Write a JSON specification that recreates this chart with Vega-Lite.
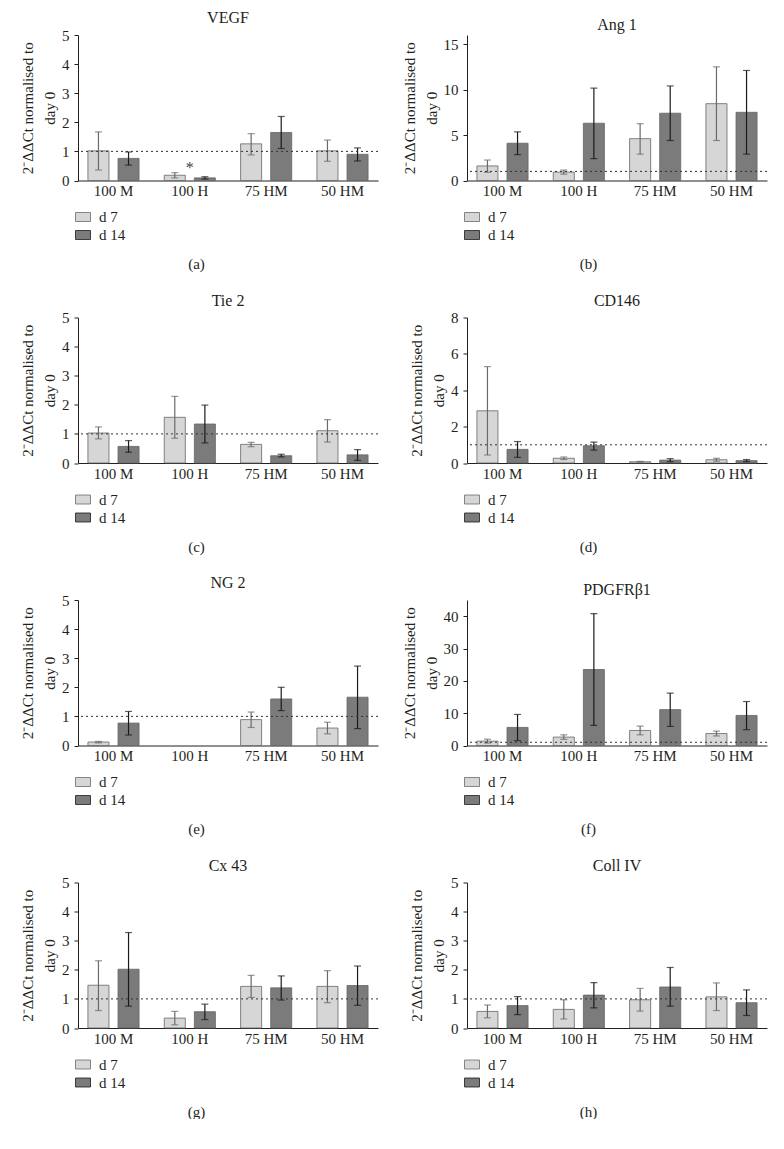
{
  "$schema": "https://vega.github.io/schema/vega-lite/v6.json",
  "autosize": {"type": "pad"},
  "padding": {"left": 20, "top": 10, "right": 0, "bottom": 0},
  "background": "white",
  "datasets": {
    "d": [
      {"gene": "VEGF", "group": "100 M", "day": "d 7", "mean": 1.02, "low": 0.36, "high": 1.67},
      {"gene": "VEGF", "group": "100 M", "day": "d 14", "mean": 0.76, "low": 0.53, "high": 0.98},
      {"gene": "VEGF", "group": "100 H", "day": "d 7", "mean": 0.18, "low": 0.09, "high": 0.27},
      {"gene": "VEGF", "group": "100 H", "day": "d 14", "mean": 0.09, "low": 0.05, "high": 0.13},
      {"gene": "VEGF", "group": "75 HM", "day": "d 7", "mean": 1.26, "low": 0.88, "high": 1.61},
      {"gene": "VEGF", "group": "75 HM", "day": "d 14", "mean": 1.65, "low": 1.10, "high": 2.20},
      {"gene": "VEGF", "group": "50 HM", "day": "d 7", "mean": 1.02, "low": 0.66, "high": 1.39},
      {"gene": "VEGF", "group": "50 HM", "day": "d 14", "mean": 0.90, "low": 0.67, "high": 1.12},
      {"gene": "Ang 1", "group": "100 M", "day": "d 7", "mean": 1.6, "low": 0.9, "high": 2.25},
      {"gene": "Ang 1", "group": "100 M", "day": "d 14", "mean": 4.1, "low": 2.85, "high": 5.35},
      {"gene": "Ang 1", "group": "100 H", "day": "d 7", "mean": 0.92, "low": 0.7, "high": 1.15},
      {"gene": "Ang 1", "group": "100 H", "day": "d 14", "mean": 6.3, "low": 2.4, "high": 10.15},
      {"gene": "Ang 1", "group": "75 HM", "day": "d 7", "mean": 4.6, "low": 2.9, "high": 6.25},
      {"gene": "Ang 1", "group": "75 HM", "day": "d 14", "mean": 7.4, "low": 4.4, "high": 10.4},
      {"gene": "Ang 1", "group": "50 HM", "day": "d 7", "mean": 8.45, "low": 4.4, "high": 12.5},
      {"gene": "Ang 1", "group": "50 HM", "day": "d 14", "mean": 7.5, "low": 2.9, "high": 12.1},
      {"gene": "Tie 2", "group": "100 M", "day": "d 7", "mean": 1.03, "low": 0.83, "high": 1.24},
      {"gene": "Tie 2", "group": "100 M", "day": "d 14", "mean": 0.57, "low": 0.37, "high": 0.77},
      {"gene": "Tie 2", "group": "100 H", "day": "d 7", "mean": 1.57, "low": 0.85, "high": 2.29},
      {"gene": "Tie 2", "group": "100 H", "day": "d 14", "mean": 1.34, "low": 0.69, "high": 1.99},
      {"gene": "Tie 2", "group": "75 HM", "day": "d 7", "mean": 0.64, "low": 0.56, "high": 0.71},
      {"gene": "Tie 2", "group": "75 HM", "day": "d 14", "mean": 0.25, "low": 0.21, "high": 0.30},
      {"gene": "Tie 2", "group": "50 HM", "day": "d 7", "mean": 1.11, "low": 0.72, "high": 1.49},
      {"gene": "Tie 2", "group": "50 HM", "day": "d 14", "mean": 0.28, "low": 0.09, "high": 0.46},
      {"gene": "CD146", "group": "100 M", "day": "d 7", "mean": 2.87, "low": 0.44, "high": 5.3},
      {"gene": "CD146", "group": "100 M", "day": "d 14", "mean": 0.75, "low": 0.31, "high": 1.18},
      {"gene": "CD146", "group": "100 H", "day": "d 7", "mean": 0.26, "low": 0.19, "high": 0.33},
      {"gene": "CD146", "group": "100 H", "day": "d 14", "mean": 0.95, "low": 0.71, "high": 1.15},
      {"gene": "CD146", "group": "75 HM", "day": "d 7", "mean": 0.07, "low": 0.05, "high": 0.09},
      {"gene": "CD146", "group": "75 HM", "day": "d 14", "mean": 0.16, "low": 0.07, "high": 0.24},
      {"gene": "CD146", "group": "50 HM", "day": "d 7", "mean": 0.18, "low": 0.10, "high": 0.26},
      {"gene": "CD146", "group": "50 HM", "day": "d 14", "mean": 0.13, "low": 0.07, "high": 0.19},
      {"gene": "NG 2", "group": "100 M", "day": "d 7", "mean": 0.12, "low": 0.09, "high": 0.14},
      {"gene": "NG 2", "group": "100 M", "day": "d 14", "mean": 0.77, "low": 0.36, "high": 1.17},
      {"gene": "NG 2", "group": "75 HM", "day": "d 7", "mean": 0.89, "low": 0.62, "high": 1.15},
      {"gene": "NG 2", "group": "75 HM", "day": "d 14", "mean": 1.6, "low": 1.2, "high": 2.0},
      {"gene": "NG 2", "group": "50 HM", "day": "d 7", "mean": 0.6, "low": 0.4, "high": 0.8},
      {"gene": "NG 2", "group": "50 HM", "day": "d 14", "mean": 1.66, "low": 0.58, "high": 2.73},
      {"gene": "PDGFRβ1", "group": "100 M", "day": "d 7", "mean": 1.35, "low": 0.75, "high": 1.95},
      {"gene": "PDGFRβ1", "group": "100 M", "day": "d 14", "mean": 5.6, "low": 1.5, "high": 9.6},
      {"gene": "PDGFRβ1", "group": "100 H", "day": "d 7", "mean": 2.6, "low": 1.9, "high": 3.3},
      {"gene": "PDGFRβ1", "group": "100 H", "day": "d 14", "mean": 23.5, "low": 6.2, "high": 40.8},
      {"gene": "PDGFRβ1", "group": "75 HM", "day": "d 7", "mean": 4.65, "low": 3.3, "high": 6.0},
      {"gene": "PDGFRβ1", "group": "75 HM", "day": "d 14", "mean": 11.1, "low": 5.9, "high": 16.2},
      {"gene": "PDGFRβ1", "group": "50 HM", "day": "d 7", "mean": 3.7, "low": 2.95, "high": 4.45},
      {"gene": "PDGFRβ1", "group": "50 HM", "day": "d 14", "mean": 9.3, "low": 4.9, "high": 13.6},
      {"gene": "Cx 43", "group": "100 M", "day": "d 7", "mean": 1.47, "low": 0.6, "high": 2.31},
      {"gene": "Cx 43", "group": "100 M", "day": "d 14", "mean": 2.02, "low": 0.75, "high": 3.28},
      {"gene": "Cx 43", "group": "100 H", "day": "d 7", "mean": 0.34, "low": 0.11, "high": 0.57},
      {"gene": "Cx 43", "group": "100 H", "day": "d 14", "mean": 0.56, "low": 0.29, "high": 0.82},
      {"gene": "Cx 43", "group": "75 HM", "day": "d 7", "mean": 1.43, "low": 1.05, "high": 1.81},
      {"gene": "Cx 43", "group": "75 HM", "day": "d 14", "mean": 1.38, "low": 0.96, "high": 1.79},
      {"gene": "Cx 43", "group": "50 HM", "day": "d 7", "mean": 1.43, "low": 0.87, "high": 1.97},
      {"gene": "Cx 43", "group": "50 HM", "day": "d 14", "mean": 1.46, "low": 0.78, "high": 2.13},
      {"gene": "Coll IV", "group": "100 M", "day": "d 7", "mean": 0.57, "low": 0.35, "high": 0.79},
      {"gene": "Coll IV", "group": "100 M", "day": "d 14", "mean": 0.77, "low": 0.46, "high": 1.08},
      {"gene": "Coll IV", "group": "100 H", "day": "d 7", "mean": 0.64, "low": 0.31, "high": 0.97},
      {"gene": "Coll IV", "group": "100 H", "day": "d 14", "mean": 1.13, "low": 0.69, "high": 1.56},
      {"gene": "Coll IV", "group": "75 HM", "day": "d 7", "mean": 0.97, "low": 0.58, "high": 1.36},
      {"gene": "Coll IV", "group": "75 HM", "day": "d 14", "mean": 1.41, "low": 0.75, "high": 2.08},
      {"gene": "Coll IV", "group": "50 HM", "day": "d 7", "mean": 1.07, "low": 0.6, "high": 1.55},
      {"gene": "Coll IV", "group": "50 HM", "day": "d 14", "mean": 0.87, "low": 0.43, "high": 1.31}
    ],
    "ref": [{"v": 1}],
    "star": [{"group": "100 H", "y": 0.42, "t": "*"}]
  },
  "columns": 2,
  "bounds": "flush",
  "spacing": {"row": 136.5, "column": 89},
  "resolve": {"scale": {"fill": "independent", "color": "independent", "y": "independent", "x": "independent", "xOffset": "independent"}, "legend": {"fill": "independent"}},
  "concat": [
    {
      "width": 300, "height": 145.5,
      "title": "VEGF",
      "layer": [
        {"data": {"name": "d"}, "transform": [{"filter": "datum.gene === 'VEGF'"}],
         "mark": {"type": "bar", "stroke": "#666666", "strokeWidth": 0.8},
         "encoding": {
           "x": {"field": "group", "type": "nominal", "sort": ["100 M", "100 H", "75 HM", "50 HM"], "scale": {"domain": ["100 M", "100 H", "75 HM", "50 HM"], "paddingInner": 0.33, "paddingOuter": 0.13}, "axis": {"title": "(a)", "titleX": 118}},
           "xOffset": {"field": "day", "type": "nominal", "scale": {"domain": ["d 7", "d 14"], "paddingInner": 0.3, "paddingOuter": 0}},
           "y": {"field": "mean", "type": "quantitative", "scale": {"domain": [0, 5]}, "axis": {"values": [0, 1, 2, 3, 4, 5], "labelOverlap": false, "title": ["2⁻ΔΔCt normalised to", "day 0"]}},
           "fill": {"field": "day", "type": "nominal", "scale": {"domain": ["d 7", "d 14"], "range": ["#d6d6d6", "#7b7b7b"]}, "legend": {"orient": "none", "legendX": -3, "legendY": 174}}
         }},
        {"data": {"name": "d"}, "transform": [{"filter": "datum.gene === 'VEGF'"}],
         "mark": {"type": "rule", "strokeWidth": 1.2},
         "encoding": {
           "x": {"field": "group", "type": "nominal"}, "xOffset": {"field": "day", "type": "nominal"},
           "y": {"field": "low", "type": "quantitative", "axis": {"values": [0, 1, 2, 3, 4, 5], "labelOverlap": false}}, "y2": {"field": "high"},
           "color": {"field": "day", "type": "nominal", "scale": {"domain": ["d 7", "d 14"], "range": ["#6a6a6a", "#1a1a1a"]}, "legend": null}
         }},
        {"data": {"name": "d"}, "transform": [{"filter": "datum.gene === 'VEGF'"}],
         "mark": {"type": "tick", "size": 7, "thickness": 1.2},
         "encoding": {
           "x": {"field": "group", "type": "nominal"}, "xOffset": {"field": "day", "type": "nominal"},
           "y": {"field": "low", "type": "quantitative", "axis": {"values": [0, 1, 2, 3, 4, 5], "labelOverlap": false}},
           "color": {"field": "day", "type": "nominal", "legend": null}
         }},
        {"data": {"name": "d"}, "transform": [{"filter": "datum.gene === 'VEGF'"}],
         "mark": {"type": "tick", "size": 7, "thickness": 1.2},
         "encoding": {
           "x": {"field": "group", "type": "nominal"}, "xOffset": {"field": "day", "type": "nominal"},
           "y": {"field": "high", "type": "quantitative", "axis": {"values": [0, 1, 2, 3, 4, 5], "labelOverlap": false}},
           "color": {"field": "day", "type": "nominal", "legend": null}
         }},
        {"data": {"name": "star"}, "mark": {"type": "text", "font": "Liberation Serif", "fontSize": 16, "fill": "#444444"},
         "encoding": {"x": {"field": "group", "type": "nominal"}, "y": {"field": "y", "type": "quantitative", "axis": {"values": [0, 1, 2, 3, 4, 5], "labelOverlap": false}}, "text": {"field": "t"}}},
        {"data": {"name": "ref"}, "mark": {"type": "rule", "strokeDash": [2, 3], "color": "#333", "strokeWidth": 1},
         "encoding": {"y": {"field": "v", "type": "quantitative", "axis": {"values": [0, 1, 2, 3, 4, 5], "labelOverlap": false}}}}
      ]
    },
    {
      "width": 300, "height": 145.5,
      "title": "Ang 1",
      "layer": [
        {"data": {"name": "d"}, "transform": [{"filter": "datum.gene === 'Ang 1'"}],
         "mark": {"type": "bar", "stroke": "#666666", "strokeWidth": 0.8},
         "encoding": {
           "x": {"field": "group", "type": "nominal", "sort": ["100 M", "100 H", "75 HM", "50 HM"], "scale": {"domain": ["100 M", "100 H", "75 HM", "50 HM"], "paddingInner": 0.33, "paddingOuter": 0.13}, "axis": {"title": "(b)", "titleX": 121}},
           "xOffset": {"field": "day", "type": "nominal", "scale": {"domain": ["d 7", "d 14"], "paddingInner": 0.3, "paddingOuter": 0}},
           "y": {"field": "mean", "type": "quantitative", "scale": {"domain": [0, 15]}, "axis": {"values": [0, 5, 10, 15], "labelOverlap": false, "title": ["2⁻ΔΔCt normalised to", "day 0"]}},
           "fill": {"field": "day", "type": "nominal", "scale": {"domain": ["d 7", "d 14"], "range": ["#d6d6d6", "#7b7b7b"]}, "legend": {"orient": "none", "legendX": -3, "legendY": 174}}
         }},
        {"data": {"name": "d"}, "transform": [{"filter": "datum.gene === 'Ang 1'"}],
         "mark": {"type": "rule", "strokeWidth": 1.2},
         "encoding": {
           "x": {"field": "group", "type": "nominal"}, "xOffset": {"field": "day", "type": "nominal"},
           "y": {"field": "low", "type": "quantitative", "axis": {"values": [0, 5, 10, 15], "labelOverlap": false}}, "y2": {"field": "high"},
           "color": {"field": "day", "type": "nominal", "scale": {"domain": ["d 7", "d 14"], "range": ["#6a6a6a", "#1a1a1a"]}, "legend": null}
         }},
        {"data": {"name": "d"}, "transform": [{"filter": "datum.gene === 'Ang 1'"}],
         "mark": {"type": "tick", "size": 7, "thickness": 1.2},
         "encoding": {
           "x": {"field": "group", "type": "nominal"}, "xOffset": {"field": "day", "type": "nominal"},
           "y": {"field": "low", "type": "quantitative", "axis": {"values": [0, 5, 10, 15], "labelOverlap": false}},
           "color": {"field": "day", "type": "nominal", "legend": null}
         }},
        {"data": {"name": "d"}, "transform": [{"filter": "datum.gene === 'Ang 1'"}],
         "mark": {"type": "tick", "size": 7, "thickness": 1.2},
         "encoding": {
           "x": {"field": "group", "type": "nominal"}, "xOffset": {"field": "day", "type": "nominal"},
           "y": {"field": "high", "type": "quantitative", "axis": {"values": [0, 5, 10, 15], "labelOverlap": false}},
           "color": {"field": "day", "type": "nominal", "legend": null}
         }},
        {"data": {"name": "ref"}, "mark": {"type": "rule", "strokeDash": [2, 3], "color": "#333", "strokeWidth": 1},
         "encoding": {"y": {"field": "v", "type": "quantitative", "axis": {"values": [0, 5, 10, 15], "labelOverlap": false}}}}
      ]
    },
    {
      "width": 300, "height": 145.5,
      "title": "Tie 2",
      "layer": [
        {"data": {"name": "d"}, "transform": [{"filter": "datum.gene === 'Tie 2'"}],
         "mark": {"type": "bar", "stroke": "#666666", "strokeWidth": 0.8},
         "encoding": {
           "x": {"field": "group", "type": "nominal", "sort": ["100 M", "100 H", "75 HM", "50 HM"], "scale": {"domain": ["100 M", "100 H", "75 HM", "50 HM"], "paddingInner": 0.33, "paddingOuter": 0.13}, "axis": {"title": "(c)", "titleX": 118}},
           "xOffset": {"field": "day", "type": "nominal", "scale": {"domain": ["d 7", "d 14"], "paddingInner": 0.3, "paddingOuter": 0}},
           "y": {"field": "mean", "type": "quantitative", "scale": {"domain": [0, 5]}, "axis": {"values": [0, 1, 2, 3, 4, 5], "labelOverlap": false, "title": ["2⁻ΔΔCt normalised to", "day 0"]}},
           "fill": {"field": "day", "type": "nominal", "scale": {"domain": ["d 7", "d 14"], "range": ["#d6d6d6", "#7b7b7b"]}, "legend": {"orient": "none", "legendX": -3, "legendY": 174}}
         }},
        {"data": {"name": "d"}, "transform": [{"filter": "datum.gene === 'Tie 2'"}],
         "mark": {"type": "rule", "strokeWidth": 1.2},
         "encoding": {
           "x": {"field": "group", "type": "nominal"}, "xOffset": {"field": "day", "type": "nominal"},
           "y": {"field": "low", "type": "quantitative", "axis": {"values": [0, 1, 2, 3, 4, 5], "labelOverlap": false}}, "y2": {"field": "high"},
           "color": {"field": "day", "type": "nominal", "scale": {"domain": ["d 7", "d 14"], "range": ["#6a6a6a", "#1a1a1a"]}, "legend": null}
         }},
        {"data": {"name": "d"}, "transform": [{"filter": "datum.gene === 'Tie 2'"}],
         "mark": {"type": "tick", "size": 7, "thickness": 1.2},
         "encoding": {
           "x": {"field": "group", "type": "nominal"}, "xOffset": {"field": "day", "type": "nominal"},
           "y": {"field": "low", "type": "quantitative", "axis": {"values": [0, 1, 2, 3, 4, 5], "labelOverlap": false}},
           "color": {"field": "day", "type": "nominal", "legend": null}
         }},
        {"data": {"name": "d"}, "transform": [{"filter": "datum.gene === 'Tie 2'"}],
         "mark": {"type": "tick", "size": 7, "thickness": 1.2},
         "encoding": {
           "x": {"field": "group", "type": "nominal"}, "xOffset": {"field": "day", "type": "nominal"},
           "y": {"field": "high", "type": "quantitative", "axis": {"values": [0, 1, 2, 3, 4, 5], "labelOverlap": false}},
           "color": {"field": "day", "type": "nominal", "legend": null}
         }},
        {"data": {"name": "ref"}, "mark": {"type": "rule", "strokeDash": [2, 3], "color": "#333", "strokeWidth": 1},
         "encoding": {"y": {"field": "v", "type": "quantitative", "axis": {"values": [0, 1, 2, 3, 4, 5], "labelOverlap": false}}}}
      ]
    },
    {
      "width": 300, "height": 145.5,
      "title": "CD146",
      "layer": [
        {"data": {"name": "d"}, "transform": [{"filter": "datum.gene === 'CD146'"}],
         "mark": {"type": "bar", "stroke": "#666666", "strokeWidth": 0.8},
         "encoding": {
           "x": {"field": "group", "type": "nominal", "sort": ["100 M", "100 H", "75 HM", "50 HM"], "scale": {"domain": ["100 M", "100 H", "75 HM", "50 HM"], "paddingInner": 0.33, "paddingOuter": 0.13}, "axis": {"title": "(d)", "titleX": 121}},
           "xOffset": {"field": "day", "type": "nominal", "scale": {"domain": ["d 7", "d 14"], "paddingInner": 0.3, "paddingOuter": 0}},
           "y": {"field": "mean", "type": "quantitative", "scale": {"domain": [0, 8]}, "axis": {"values": [0, 2, 4, 6, 8], "labelOverlap": false, "title": ["2⁻ΔΔCt normalised to", "day 0"]}},
           "fill": {"field": "day", "type": "nominal", "scale": {"domain": ["d 7", "d 14"], "range": ["#d6d6d6", "#7b7b7b"]}, "legend": {"orient": "none", "legendX": -3, "legendY": 174}}
         }},
        {"data": {"name": "d"}, "transform": [{"filter": "datum.gene === 'CD146'"}],
         "mark": {"type": "rule", "strokeWidth": 1.2},
         "encoding": {
           "x": {"field": "group", "type": "nominal"}, "xOffset": {"field": "day", "type": "nominal"},
           "y": {"field": "low", "type": "quantitative", "axis": {"values": [0, 2, 4, 6, 8], "labelOverlap": false}}, "y2": {"field": "high"},
           "color": {"field": "day", "type": "nominal", "scale": {"domain": ["d 7", "d 14"], "range": ["#6a6a6a", "#1a1a1a"]}, "legend": null}
         }},
        {"data": {"name": "d"}, "transform": [{"filter": "datum.gene === 'CD146'"}],
         "mark": {"type": "tick", "size": 7, "thickness": 1.2},
         "encoding": {
           "x": {"field": "group", "type": "nominal"}, "xOffset": {"field": "day", "type": "nominal"},
           "y": {"field": "low", "type": "quantitative", "axis": {"values": [0, 2, 4, 6, 8], "labelOverlap": false}},
           "color": {"field": "day", "type": "nominal", "legend": null}
         }},
        {"data": {"name": "d"}, "transform": [{"filter": "datum.gene === 'CD146'"}],
         "mark": {"type": "tick", "size": 7, "thickness": 1.2},
         "encoding": {
           "x": {"field": "group", "type": "nominal"}, "xOffset": {"field": "day", "type": "nominal"},
           "y": {"field": "high", "type": "quantitative", "axis": {"values": [0, 2, 4, 6, 8], "labelOverlap": false}},
           "color": {"field": "day", "type": "nominal", "legend": null}
         }},
        {"data": {"name": "ref"}, "mark": {"type": "rule", "strokeDash": [2, 3], "color": "#333", "strokeWidth": 1},
         "encoding": {"y": {"field": "v", "type": "quantitative", "axis": {"values": [0, 2, 4, 6, 8], "labelOverlap": false}}}}
      ]
    },
    {
      "width": 300, "height": 145.5,
      "title": "NG 2",
      "layer": [
        {"data": {"name": "d"}, "transform": [{"filter": "datum.gene === 'NG 2'"}],
         "mark": {"type": "bar", "stroke": "#666666", "strokeWidth": 0.8},
         "encoding": {
           "x": {"field": "group", "type": "nominal", "sort": ["100 M", "100 H", "75 HM", "50 HM"], "scale": {"domain": ["100 M", "100 H", "75 HM", "50 HM"], "paddingInner": 0.33, "paddingOuter": 0.13}, "axis": {"title": "(e)", "titleX": 118}},
           "xOffset": {"field": "day", "type": "nominal", "scale": {"domain": ["d 7", "d 14"], "paddingInner": 0.3, "paddingOuter": 0}},
           "y": {"field": "mean", "type": "quantitative", "scale": {"domain": [0, 5]}, "axis": {"values": [0, 1, 2, 3, 4, 5], "labelOverlap": false, "title": ["2⁻ΔΔCt normalised to", "day 0"]}},
           "fill": {"field": "day", "type": "nominal", "scale": {"domain": ["d 7", "d 14"], "range": ["#d6d6d6", "#7b7b7b"]}, "legend": {"orient": "none", "legendX": -3, "legendY": 174}}
         }},
        {"data": {"name": "d"}, "transform": [{"filter": "datum.gene === 'NG 2'"}],
         "mark": {"type": "rule", "strokeWidth": 1.2},
         "encoding": {
           "x": {"field": "group", "type": "nominal"}, "xOffset": {"field": "day", "type": "nominal"},
           "y": {"field": "low", "type": "quantitative", "axis": {"values": [0, 1, 2, 3, 4, 5], "labelOverlap": false}}, "y2": {"field": "high"},
           "color": {"field": "day", "type": "nominal", "scale": {"domain": ["d 7", "d 14"], "range": ["#6a6a6a", "#1a1a1a"]}, "legend": null}
         }},
        {"data": {"name": "d"}, "transform": [{"filter": "datum.gene === 'NG 2'"}],
         "mark": {"type": "tick", "size": 7, "thickness": 1.2},
         "encoding": {
           "x": {"field": "group", "type": "nominal"}, "xOffset": {"field": "day", "type": "nominal"},
           "y": {"field": "low", "type": "quantitative", "axis": {"values": [0, 1, 2, 3, 4, 5], "labelOverlap": false}},
           "color": {"field": "day", "type": "nominal", "legend": null}
         }},
        {"data": {"name": "d"}, "transform": [{"filter": "datum.gene === 'NG 2'"}],
         "mark": {"type": "tick", "size": 7, "thickness": 1.2},
         "encoding": {
           "x": {"field": "group", "type": "nominal"}, "xOffset": {"field": "day", "type": "nominal"},
           "y": {"field": "high", "type": "quantitative", "axis": {"values": [0, 1, 2, 3, 4, 5], "labelOverlap": false}},
           "color": {"field": "day", "type": "nominal", "legend": null}
         }},
        {"data": {"name": "ref"}, "mark": {"type": "rule", "strokeDash": [2, 3], "color": "#333", "strokeWidth": 1},
         "encoding": {"y": {"field": "v", "type": "quantitative", "axis": {"values": [0, 1, 2, 3, 4, 5], "labelOverlap": false}}}}
      ]
    },
    {
      "width": 300, "height": 145.5,
      "title": "PDGFRβ1",
      "layer": [
        {"data": {"name": "d"}, "transform": [{"filter": "datum.gene === 'PDGFRβ1'"}],
         "mark": {"type": "bar", "stroke": "#666666", "strokeWidth": 0.8},
         "encoding": {
           "x": {"field": "group", "type": "nominal", "sort": ["100 M", "100 H", "75 HM", "50 HM"], "scale": {"domain": ["100 M", "100 H", "75 HM", "50 HM"], "paddingInner": 0.33, "paddingOuter": 0.13}, "axis": {"title": "(f)", "titleX": 121}},
           "xOffset": {"field": "day", "type": "nominal", "scale": {"domain": ["d 7", "d 14"], "paddingInner": 0.3, "paddingOuter": 0}},
           "y": {"field": "mean", "type": "quantitative", "scale": {"domain": [0, 45]}, "axis": {"values": [0, 10, 20, 30, 40], "labelOverlap": false, "title": ["2⁻ΔΔCt normalised to", "day 0"]}},
           "fill": {"field": "day", "type": "nominal", "scale": {"domain": ["d 7", "d 14"], "range": ["#d6d6d6", "#7b7b7b"]}, "legend": {"orient": "none", "legendX": -3, "legendY": 174}}
         }},
        {"data": {"name": "d"}, "transform": [{"filter": "datum.gene === 'PDGFRβ1'"}],
         "mark": {"type": "rule", "strokeWidth": 1.2},
         "encoding": {
           "x": {"field": "group", "type": "nominal"}, "xOffset": {"field": "day", "type": "nominal"},
           "y": {"field": "low", "type": "quantitative", "axis": {"values": [0, 10, 20, 30, 40], "labelOverlap": false}}, "y2": {"field": "high"},
           "color": {"field": "day", "type": "nominal", "scale": {"domain": ["d 7", "d 14"], "range": ["#6a6a6a", "#1a1a1a"]}, "legend": null}
         }},
        {"data": {"name": "d"}, "transform": [{"filter": "datum.gene === 'PDGFRβ1'"}],
         "mark": {"type": "tick", "size": 7, "thickness": 1.2},
         "encoding": {
           "x": {"field": "group", "type": "nominal"}, "xOffset": {"field": "day", "type": "nominal"},
           "y": {"field": "low", "type": "quantitative", "axis": {"values": [0, 10, 20, 30, 40], "labelOverlap": false}},
           "color": {"field": "day", "type": "nominal", "legend": null}
         }},
        {"data": {"name": "d"}, "transform": [{"filter": "datum.gene === 'PDGFRβ1'"}],
         "mark": {"type": "tick", "size": 7, "thickness": 1.2},
         "encoding": {
           "x": {"field": "group", "type": "nominal"}, "xOffset": {"field": "day", "type": "nominal"},
           "y": {"field": "high", "type": "quantitative", "axis": {"values": [0, 10, 20, 30, 40], "labelOverlap": false}},
           "color": {"field": "day", "type": "nominal", "legend": null}
         }},
        {"data": {"name": "ref"}, "mark": {"type": "rule", "strokeDash": [2, 3], "color": "#333", "strokeWidth": 1},
         "encoding": {"y": {"field": "v", "type": "quantitative", "axis": {"values": [0, 10, 20, 30, 40], "labelOverlap": false}}}}
      ]
    },
    {
      "width": 300, "height": 145.5,
      "title": "Cx 43",
      "layer": [
        {"data": {"name": "d"}, "transform": [{"filter": "datum.gene === 'Cx 43'"}],
         "mark": {"type": "bar", "stroke": "#666666", "strokeWidth": 0.8},
         "encoding": {
           "x": {"field": "group", "type": "nominal", "sort": ["100 M", "100 H", "75 HM", "50 HM"], "scale": {"domain": ["100 M", "100 H", "75 HM", "50 HM"], "paddingInner": 0.33, "paddingOuter": 0.13}, "axis": {"title": "(g)", "titleX": 118}},
           "xOffset": {"field": "day", "type": "nominal", "scale": {"domain": ["d 7", "d 14"], "paddingInner": 0.3, "paddingOuter": 0}},
           "y": {"field": "mean", "type": "quantitative", "scale": {"domain": [0, 5]}, "axis": {"values": [0, 1, 2, 3, 4, 5], "labelOverlap": false, "title": ["2⁻ΔΔCt normalised to", "day 0"]}},
           "fill": {"field": "day", "type": "nominal", "scale": {"domain": ["d 7", "d 14"], "range": ["#d6d6d6", "#7b7b7b"]}, "legend": {"orient": "none", "legendX": -3, "legendY": 174}}
         }},
        {"data": {"name": "d"}, "transform": [{"filter": "datum.gene === 'Cx 43'"}],
         "mark": {"type": "rule", "strokeWidth": 1.2},
         "encoding": {
           "x": {"field": "group", "type": "nominal"}, "xOffset": {"field": "day", "type": "nominal"},
           "y": {"field": "low", "type": "quantitative", "axis": {"values": [0, 1, 2, 3, 4, 5], "labelOverlap": false}}, "y2": {"field": "high"},
           "color": {"field": "day", "type": "nominal", "scale": {"domain": ["d 7", "d 14"], "range": ["#6a6a6a", "#1a1a1a"]}, "legend": null}
         }},
        {"data": {"name": "d"}, "transform": [{"filter": "datum.gene === 'Cx 43'"}],
         "mark": {"type": "tick", "size": 7, "thickness": 1.2},
         "encoding": {
           "x": {"field": "group", "type": "nominal"}, "xOffset": {"field": "day", "type": "nominal"},
           "y": {"field": "low", "type": "quantitative", "axis": {"values": [0, 1, 2, 3, 4, 5], "labelOverlap": false}},
           "color": {"field": "day", "type": "nominal", "legend": null}
         }},
        {"data": {"name": "d"}, "transform": [{"filter": "datum.gene === 'Cx 43'"}],
         "mark": {"type": "tick", "size": 7, "thickness": 1.2},
         "encoding": {
           "x": {"field": "group", "type": "nominal"}, "xOffset": {"field": "day", "type": "nominal"},
           "y": {"field": "high", "type": "quantitative", "axis": {"values": [0, 1, 2, 3, 4, 5], "labelOverlap": false}},
           "color": {"field": "day", "type": "nominal", "legend": null}
         }},
        {"data": {"name": "ref"}, "mark": {"type": "rule", "strokeDash": [2, 3], "color": "#333", "strokeWidth": 1},
         "encoding": {"y": {"field": "v", "type": "quantitative", "axis": {"values": [0, 1, 2, 3, 4, 5], "labelOverlap": false}}}}
      ]
    },
    {
      "width": 300, "height": 145.5,
      "title": "Coll IV",
      "layer": [
        {"data": {"name": "d"}, "transform": [{"filter": "datum.gene === 'Coll IV'"}],
         "mark": {"type": "bar", "stroke": "#666666", "strokeWidth": 0.8},
         "encoding": {
           "x": {"field": "group", "type": "nominal", "sort": ["100 M", "100 H", "75 HM", "50 HM"], "scale": {"domain": ["100 M", "100 H", "75 HM", "50 HM"], "paddingInner": 0.33, "paddingOuter": 0.13}, "axis": {"title": "(h)", "titleX": 121}},
           "xOffset": {"field": "day", "type": "nominal", "scale": {"domain": ["d 7", "d 14"], "paddingInner": 0.3, "paddingOuter": 0}},
           "y": {"field": "mean", "type": "quantitative", "scale": {"domain": [0, 5]}, "axis": {"values": [0, 1, 2, 3, 4, 5], "labelOverlap": false, "title": ["2⁻ΔΔCt normalised to", "day 0"]}},
           "fill": {"field": "day", "type": "nominal", "scale": {"domain": ["d 7", "d 14"], "range": ["#d6d6d6", "#7b7b7b"]}, "legend": {"orient": "none", "legendX": -3, "legendY": 174}}
         }},
        {"data": {"name": "d"}, "transform": [{"filter": "datum.gene === 'Coll IV'"}],
         "mark": {"type": "rule", "strokeWidth": 1.2},
         "encoding": {
           "x": {"field": "group", "type": "nominal"}, "xOffset": {"field": "day", "type": "nominal"},
           "y": {"field": "low", "type": "quantitative", "axis": {"values": [0, 1, 2, 3, 4, 5], "labelOverlap": false}}, "y2": {"field": "high"},
           "color": {"field": "day", "type": "nominal", "scale": {"domain": ["d 7", "d 14"], "range": ["#6a6a6a", "#1a1a1a"]}, "legend": null}
         }},
        {"data": {"name": "d"}, "transform": [{"filter": "datum.gene === 'Coll IV'"}],
         "mark": {"type": "tick", "size": 7, "thickness": 1.2},
         "encoding": {
           "x": {"field": "group", "type": "nominal"}, "xOffset": {"field": "day", "type": "nominal"},
           "y": {"field": "low", "type": "quantitative", "axis": {"values": [0, 1, 2, 3, 4, 5], "labelOverlap": false}},
           "color": {"field": "day", "type": "nominal", "legend": null}
         }},
        {"data": {"name": "d"}, "transform": [{"filter": "datum.gene === 'Coll IV'"}],
         "mark": {"type": "tick", "size": 7, "thickness": 1.2},
         "encoding": {
           "x": {"field": "group", "type": "nominal"}, "xOffset": {"field": "day", "type": "nominal"},
           "y": {"field": "high", "type": "quantitative", "axis": {"values": [0, 1, 2, 3, 4, 5], "labelOverlap": false}},
           "color": {"field": "day", "type": "nominal", "legend": null}
         }},
        {"data": {"name": "ref"}, "mark": {"type": "rule", "strokeDash": [2, 3], "color": "#333", "strokeWidth": 1},
         "encoding": {"y": {"field": "v", "type": "quantitative", "axis": {"values": [0, 1, 2, 3, 4, 5], "labelOverlap": false}}}}
      ]
    }
  ],
  "config": {
    "view": {"stroke": null},
    "font": "Liberation Serif",
    "title": {"font": "Liberation Serif", "fontSize": 16, "fontWeight": "normal", "color": "#231f20", "offset": 2, "anchor": "middle"},
    "axis": {"labelFont": "Liberation Serif", "titleFont": "Liberation Serif", "labelFontSize": 15, "titleFontSize": 15, "titleFontWeight": "normal", "labelColor": "#231f20", "titleColor": "#231f20", "domainColor": "#231f20", "tickColor": "#231f20", "grid": false},
    "axisX": {"ticks": false, "labelAngle": 0, "labelPadding": 3, "titleY": 83, "titleBaseline": "middle", "titleFontSize": 15},
    "axisY": {"tickSize": 4, "labelPadding": 5, "titlePadding": 4, "titleLineHeight": 22, "labelOverlap": false},
    "legend": {"title": null, "direction": "vertical", "symbolType": "M-1,-0.6H1V0.6H-1Z", "symbolSize": 225, "symbolStrokeColor": "#666666", "symbolStrokeWidth": 0.8, "labelFont": "Liberation Serif", "labelFontSize": 15, "labelColor": "#231f20", "labelOffset": 8, "rowPadding": 2, "padding": 0}
  }
}
